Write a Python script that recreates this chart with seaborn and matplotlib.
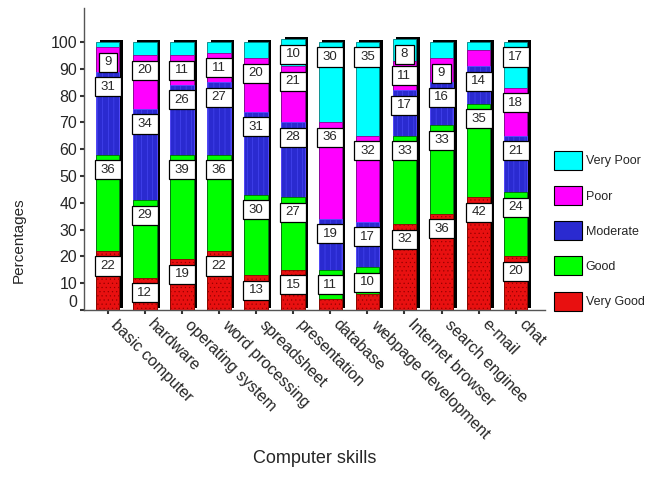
import numpy as np
import pandas as pd
import seaborn as sns
import matplotlib.pyplot as plt
import matplotlib.transforms as mtransforms
from matplotlib.patches import Patch
from matplotlib.path import Path

# data (percent of respondents per rating)
skills = ["basic computer", "hardware", "operating system", "word processing",
          "spreadsheet", "presentation", "database", "webpage development",
          "Internet browser", "search enginee", "e-mail", "chat"]
very_good = [22, 12, 19, 22, 13, 15, 4, 6, 32, 36, 42, 20]
good = [36, 29, 39, 36, 30, 27, 11, 10, 33, 33, 35, 24]
moderate = [31, 34, 26, 27, 31, 28, 19, 17, 17, 16, 14, 21]
poor = [9, 20, 11, 11, 20, 21, 36, 32, 11, 9, 6, 18]
very_poor = [2, 5, 5, 4, 6, 10, 30, 35, 8, 6, 3, 17]

levels = ["Very Good", "Good", "Moderate", "Poor", "Very Poor"]
series = [very_good, good, moderate, poor, very_poor]
colors = ["#e81010", "#00ff00", "#2a2ad0", "#ff00ff", "#00ffff"]
edges = ["#900000", "#007000", "#5050ff", "#900090", "#008080"]
hatches = ["....", None, "|||", None, None]

sns.set_style("ticks")
plt.rcParams['font.family'] = ['Liberation Sans', 'DejaVu Sans']
plt.rcParams['hatch.linewidth'] = 0.35

df = pd.DataFrame({"skill": skills})
for name, vals in zip(levels, series):
    df[name] = vals
cum = df[levels].cumsum(axis=1)

fig = plt.figure(figsize=(6.48, 4.95), dpi=100)
ax = fig.add_axes([84/648, 185/495, 461/648, 302/495])

# black drop shadow behind each stack
shadow = mtransforms.offset_copy(ax.transData, fig=fig, x=3.5, y=2.5, units='dots')
sns.barplot(x=df["skill"], y=cum["Very Poor"], color="black", width=0.63,
            saturation=1, errorbar=None, linewidth=0, transform=shadow, ax=ax)

# stacked bars: draw cumulative totals from the top level down
for i in range(len(levels) - 1, -1, -1):
    sns.barplot(x=df["skill"], y=cum[levels[i]], color=colors[i], width=0.63,
                saturation=1, errorbar=None, edgecolor=edges[i], linewidth=0.6,
                hatch=hatches[i], ax=ax)


def label_box(x0, y0, width, height, mutation_size):
    px = 0.42 * mutation_size
    py = 0.27 * mutation_size
    x0, y0 = x0 - px, y0 - py
    w, h = width + 2 * px, height + 2 * py
    return Path([(x0, y0), (x0 + w, y0), (x0 + w, y0 + h), (x0, y0 + h), (x0, y0)],
                closed=True)


for i, name in enumerate(levels):
    for j in range(len(skills)):
        v = df[name][j]
        if v >= 8:
            ax.text(j, cum[name][j] - 5.6, str(v), ha="center", va="center",
                    fontsize=9.5, zorder=5,
                    bbox=dict(boxstyle=label_box, fc="white", ec="black", lw=0.9))

ax.set_xlim(-0.64, 11.79)
ax.set_ylim(0, 112.7)
ax.set_yticks(range(0, 101, 10))
ax.tick_params(axis='y', labelsize=11.5, length=3, width=1.5, color="#333333", pad=2)
ax.tick_params(axis='x', length=3, width=1.5, color="#333333", pad=2)
plt.setp(ax.get_xticklabels(), rotation=-45, ha="left", va="top",
         rotation_mode="anchor", fontsize=11.5)
for lbl in ax.get_xticklabels():
    lbl.set_transform(lbl.get_transform() + mtransforms.ScaledTranslation(0.11, 0, fig.dpi_scale_trans))
# the 0 label sits a little above its tick in the original
zero = ax.yaxis.get_major_ticks()[0].label1
zero.set_transform(zero.get_transform() + mtransforms.ScaledTranslation(0, 0.09, fig.dpi_scale_trans))

for s in ["top", "right"]:
    ax.spines[s].set_visible(False)
for s in ["left", "bottom"]:
    ax.spines[s].set_color("#555555")
    ax.spines[s].set_linewidth(1.0)

ax.set_xlabel("Computer skills", fontsize=13)
ax.set_ylabel("Percentages", fontsize=11)
ax.xaxis.set_label_coords(0.5, -0.462)
ax.yaxis.set_label_coords(-0.126, 0.232)

handles = [Patch(facecolor=colors[i], edgecolor="black", lw=0.8)
           for i in range(len(levels) - 1, -1, -1)]
fig.legend(handles, levels[::-1], loc="upper left",
           bbox_to_anchor=(554/648, 1 - 151/495), frameon=False, fontsize=9,
           handlelength=2.2, handleheight=1.95, labelspacing=1.3,
           handletextpad=0.35, borderpad=0, borderaxespad=0)

plt.savefig("out.png", dpi=100)
